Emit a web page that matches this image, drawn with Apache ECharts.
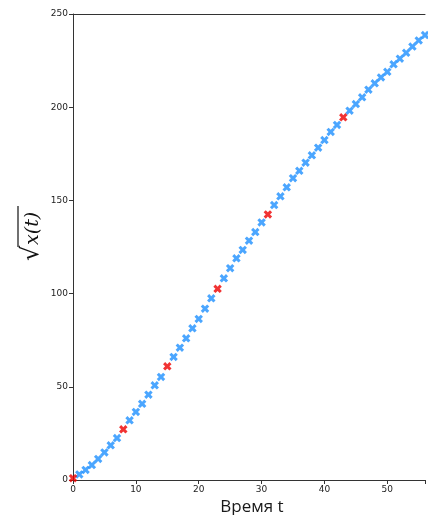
<!DOCTYPE html>
<html>
<head>
<meta charset="utf-8">
<script src="https://cdn.jsdelivr.net/npm/echarts@6/dist/echarts.min.js"></script>
<style>html,body{margin:0;padding:0;background:#fff}#c{width:428px;height:515px}</style>
</head>
<body>
<div id="c"></div>
<script>
// Data
const times = [0,1,2,3,4,5,6,7,8,9,10,11,12,13,14,15,16,17,18,19,20,21,22,23,24,25,26,27,28,29,30,31,32,33,34,35,36,37,38,39,40,41,42,43,44,45,46,47,48,49,50,51,52,53,54,55,56];
const sqrtX = [1.0,3.0,5.4,8.0,11.3,14.8,18.6,22.5,27.2,32.0,36.5,40.9,45.8,50.8,55.3,61.0,66.0,71.0,76.0,81.4,86.4,91.9,97.5,102.6,108.2,113.6,118.9,123.4,128.4,133.0,138.2,142.5,147.5,152.2,157.0,161.9,165.9,170.2,174.2,178.3,182.4,186.7,190.5,194.6,198.1,201.7,205.3,209.4,212.8,216.0,219.0,223.0,226.0,229.2,232.5,235.8,238.7];
const highlightedTimes = [0, 8, 15, 23, 31, 43];
const xTicks = [0, 10, 20, 30, 40, 50];
const yTicks = [0, 50, 100, 150, 200, 250];
const xLabel = 'Время t';

const blueData = [], redData = [];
times.forEach((t, i) => {
  (highlightedTimes.includes(t) ? redData : blueData).push([t, sqrtX[i]]);
});

const xMark = 'path://M0,1L1,0L2,1L3,0L4,1L3,2L4,3L3,4L2,3L1,4L0,3L1,2Z';
const axisColor = '#333';
const chart = echarts.init(document.getElementById('c'), null, {renderer: 'canvas'});
chart.setOption({
  animation: false,
  backgroundColor: '#fff',
  grid: {left: 73, top: 14, right: 0, bottom: 35},
  xAxis: [{
    type: 'value', min: 0, max: 56, interval: 10,
    axisLine: {show: true, lineStyle: {color: axisColor, width: 1}},
    axisTick: {show: true, length: 4, lineStyle: {color: axisColor}},
    axisLabel: {color: '#222', fontSize: 9, fontFamily: 'DejaVu Sans', margin: 5,
      formatter: v => xTicks.includes(v) ? String(v) : ''},
    splitLine: {show: false}
  }, {
    type: 'value', position: 'top', min: 0, max: 56,
    axisLine: {show: true, lineStyle: {color: axisColor, width: 1}},
    axisTick: {show: false}, axisLabel: {show: false}, splitLine: {show: false}
  }],
  yAxis: {
    type: 'value', min: 0, max: 250, interval: 50,
    axisLine: {show: true, lineStyle: {color: axisColor, width: 1}},
    axisTick: {show: true, length: 4, lineStyle: {color: axisColor}},
    axisLabel: {color: '#222', fontSize: 9, fontFamily: 'DejaVu Sans', margin: 5,
      formatter: v => yTicks.includes(v) ? String(v) : ''},
    splitLine: {show: false}
  },
  series: [{
    type: 'scatter', data: blueData, symbol: xMark, symbolSize: 8.5,
    itemStyle: {color: '#1E90FF'}, clip: false
  }, {
    type: 'scatter', data: redData, symbol: xMark, symbolSize: 8.5,
    itemStyle: {color: '#EE0000'}, clip: false
  }],
  graphic: [{
    type: 'text', x: 252, y: 507,
    style: {text: xLabel, font: '17px "Open Sans"', fill: '#1a1a1a', textAlign: 'center', textVerticalAlign: 'middle'}
  }, {
    type: 'group', x: 32, y: 234, rotation: Math.PI / 2,
    children: [{
      type: 'text', x: -11, y: 1,
      style: {text: 'x(t)', font: 'italic 19px "DejaVu Serif"', fill: '#111', textAlign: 'left', textVerticalAlign: 'middle'}
    }, {
      type: 'text', x: -27, y: 0,
      style: {text: '√', font: '24px "DejaVu Serif"', fill: '#111', textAlign: 'left', textVerticalAlign: 'middle'}
    }, {
      type: 'line', shape: {x1: -13, y1: -14, x2: 28, y2: -14},
      style: {stroke: '#111', lineWidth: 1.2}
    }]
  }]
});
</script>
</body>
</html>
